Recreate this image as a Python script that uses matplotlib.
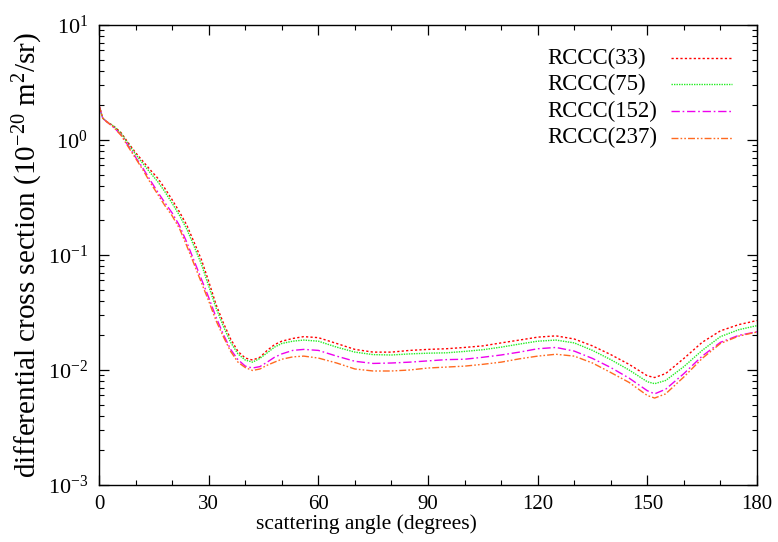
import matplotlib
matplotlib.use("Agg")
import matplotlib.pyplot as plt
from matplotlib.lines import Line2D
from matplotlib.ticker import LogLocator, MultipleLocator, NullFormatter

angles = [0, 1, 2, 4, 6, 8, 10, 12, 14, 16, 18, 20, 22, 24, 26, 28, 30, 32, 34, 36, 38,
          40, 42, 44, 46, 48, 50, 53, 56, 60, 65, 70, 75, 80, 85, 90, 95, 100, 105, 110,
          115, 120, 125, 130, 135, 140, 145, 150, 152, 155, 160, 165, 170, 175, 180]

rccc33 = [2.0, 1.55, 1.45, 1.32, 1.16, 0.944, 0.776, 0.653, 0.550, 0.468, 0.380, 0.302,
          0.237, 0.182, 0.129, 0.0912, 0.0589, 0.0372, 0.0257, 0.0186, 0.0145, 0.0127,
          0.0122, 0.0129, 0.0148, 0.0166, 0.0178, 0.0188, 0.0195, 0.0191, 0.0170, 0.0151,
          0.0143, 0.0143, 0.0148, 0.0151, 0.0153, 0.0157, 0.0162, 0.0172, 0.0182, 0.0193,
          0.0198, 0.0186, 0.0162, 0.0136, 0.0112, 0.0089, 0.0086, 0.0093, 0.0126, 0.0174,
          0.0219, 0.0248, 0.0269]

rccc75 = [2.0, 1.55, 1.45, 1.32, 1.15, 0.923, 0.750, 0.624, 0.519, 0.437, 0.355, 0.282,
          0.221, 0.168, 0.119, 0.0832, 0.0537, 0.0347, 0.0240, 0.0174, 0.0138, 0.0122,
          0.0117, 0.0126, 0.0141, 0.0158, 0.0170, 0.0178, 0.0182, 0.0178, 0.0158, 0.0143,
          0.0136, 0.0135, 0.0138, 0.0140, 0.0141, 0.0145, 0.0150, 0.0158, 0.0168, 0.0178,
          0.0182, 0.0172, 0.0148, 0.0123, 0.0100, 0.0079, 0.0076, 0.0081, 0.0107, 0.0148,
          0.0195, 0.0224, 0.0243]

rccc152 = [2.0, 1.55, 1.45, 1.29, 1.11, 0.891, 0.708, 0.569, 0.447, 0.355, 0.285, 0.232,
           0.180, 0.129, 0.0891, 0.0617, 0.0427, 0.0288, 0.0204, 0.0151, 0.0123, 0.0108,
           0.0104, 0.0107, 0.0117, 0.0129, 0.0138, 0.0148, 0.0151, 0.0148, 0.0132, 0.0119,
           0.0114, 0.0115, 0.0117, 0.0120, 0.0123, 0.0124, 0.0129, 0.0135, 0.0143, 0.0153,
           0.0157, 0.0146, 0.0126, 0.0105, 0.0085, 0.0066, 0.0062, 0.0068, 0.0093, 0.0132,
           0.0174, 0.0200, 0.0215]

rccc237 = [2.0, 1.55, 1.45, 1.29, 1.10, 0.871, 0.692, 0.550, 0.427, 0.339, 0.269, 0.219,
           0.170, 0.120, 0.0832, 0.0575, 0.0398, 0.0269, 0.0195, 0.0145, 0.0117, 0.0105,
           0.0099, 0.0102, 0.0110, 0.0117, 0.0124, 0.0130, 0.0132, 0.0127, 0.0115, 0.0102,
           0.0098, 0.0098, 0.0100, 0.0104, 0.0106, 0.0108, 0.0112, 0.0117, 0.0125, 0.0132,
           0.0137, 0.0132, 0.0115, 0.0095, 0.0078, 0.0060, 0.0057, 0.0062, 0.0087, 0.0126,
           0.0170, 0.0197, 0.0214]

labels = ["RCCC(33)", "RCCC(75)", "RCCC(152)", "RCCC(237)"]
xticks = [0, 30, 60, 90, 120, 150, 180]

plt.rcParams['font.family'] = ['Liberation Serif', 'DejaVu Serif']
plt.rcParams['mathtext.fontset'] = 'custom'
plt.rcParams['mathtext.rm'] = 'Liberation Serif'
plt.rcParams['mathtext.it'] = 'Liberation Serif:italic'

fig = plt.figure(figsize=(7.78, 5.42), dpi=100)
ax = fig.add_axes([0.1273, 0.1052, 0.8457, 0.8487])

series = [rccc33, rccc75, rccc152, rccc237]
colors = ['#ff0000', '#22ee22', '#ee00ee', '#ff6a20']
styles = [(0, (1.6, 1.6)), (0, (1, 0.8)), (0, (6, 2, 1.2, 2)), (0, (5, 1.5, 1.2, 1.5, 1.2, 1.5))]
for ys, c, ls in zip(series, colors, styles):
    ax.plot(angles, ys, color=c, linestyle=ls, linewidth=1.0)

ax.set_yscale('log')
ax.set_xlim(0, 180)
ax.set_ylim(1e-3, 1e1)
ax.set_xticks(xticks)
ax.set_xticklabels([str(t) for t in xticks])
ax.xaxis.set_minor_locator(MultipleLocator(10))
ax.yaxis.set_major_locator(LogLocator(base=10, numticks=10))
ax.yaxis.set_minor_locator(LogLocator(base=10, subs=range(2, 10), numticks=10))
ax.yaxis.set_minor_formatter(NullFormatter())
ax.tick_params(which='both', direction='in', top=True, right=True)
ax.tick_params(axis='x', labelsize=15, pad=7)
ax.tick_params(axis='y', labelsize=16, pad=8)
ax.tick_params(which='major', length=7, width=0.9)
ax.tick_params(which='minor', length=3.5, width=0.8)
for s in ax.spines.values():
    s.set_linewidth(1.0)

ax.set_xlabel('scattering angle (degrees)', fontsize=15.5)
ax.xaxis.set_label_coords(0.407, -0.063)
ax.xaxis.label.set_va('top')
ax.set_ylabel(r'differential cross section (10$^{-20}$ m$^2$/sr)', fontsize=21)
ax.yaxis.set_label_coords(-0.082, 0.5)

# legend: text left-aligned, sample line to the right (gnuplot style)
rows_y = [0.9276, 0.871, 0.813, 0.755]
for lab, c, ls, yy in zip(labels, colors, styles, rows_y):
    ax.text(0.681, yy, lab, transform=ax.transAxes, ha='left', va='center', fontsize=16.5)
    ax.add_line(Line2D([0.870, 0.9616], [yy, yy], transform=ax.transAxes,
                       color=c, linestyle=ls, linewidth=1.0))

fig.savefig('out.png', dpi=100)
